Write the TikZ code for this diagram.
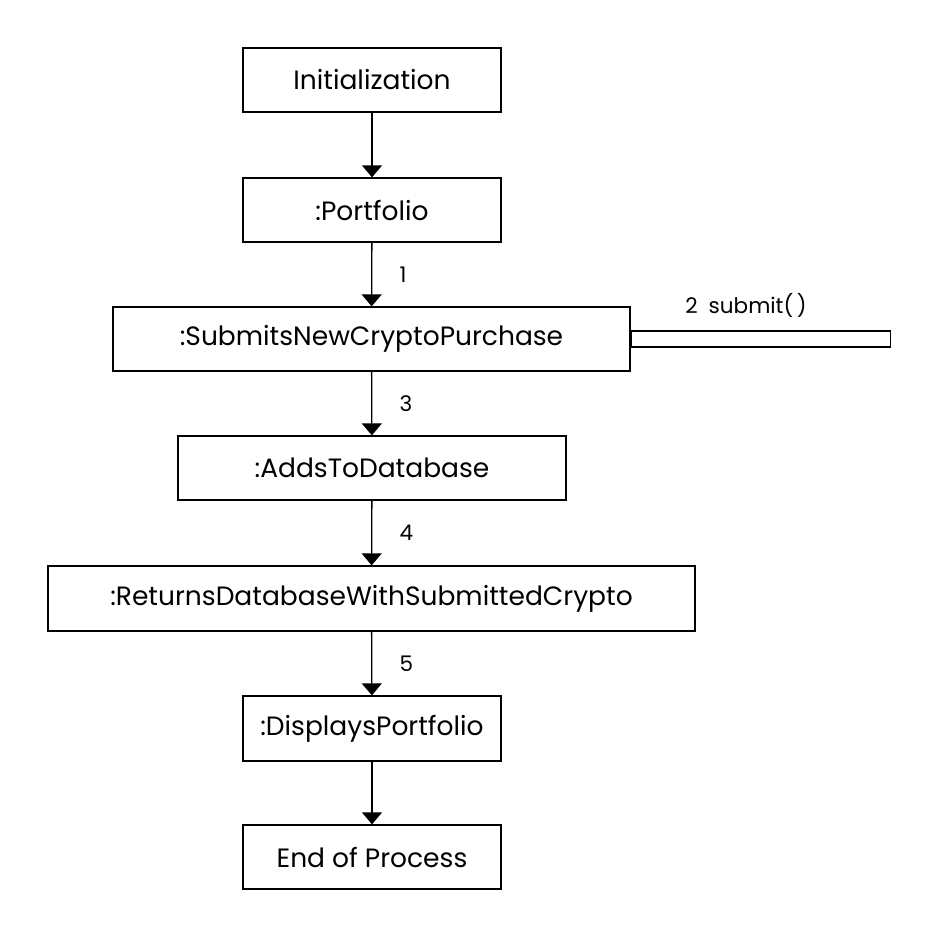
\documentclass[tikz,border=0pt]{standalone}
\usepackage{fontspec}
\setmainfont{Poppins}
\usetikzlibrary{arrows.meta}
\begin{document}
\begin{tikzpicture}[x=1pt,y=-1pt,
  box/.style={draw,line width=1.3pt,minimum height=64pt,inner sep=0pt,font=\fontsize{26.5}{30}\selectfont},
  flow/.style={line width=1.3pt,-{Triangle[width=20pt,length=12pt]}},
  lbl/.style={font=\fontsize{21.5}{24}\selectfont}]
\useasboundingbox[fill=white] (0,0) rectangle (939,938);
\node[box,minimum width=258pt] (init) at (372,80) {Initialization};
\node[box,minimum width=258pt] (port) at (372,210) {:Portfolio};
\node[box,minimum width=517pt] (sub) at (371.5,339) {:SubmitsNewCryptoPurchase};
\node[box,minimum width=388pt] (add) at (372,468) {:AddsToDatabase};
\node[box,minimum width=647pt,minimum height=65pt] (ret) at (371.5,598.5) {:ReturnsDatabaseWithSubmittedCrypto};
\node[box,minimum width=258pt,minimum height=65pt] (disp) at (372,728.5) {:DisplaysPortfolio};
\node[box,minimum width=258pt] (end) at (372,857) {End of Process};
\draw[flow] (init) -- (port);
\draw[flow] (port) -- node[lbl,right=24pt] {1} (sub);
\draw[flow] (sub) -- node[lbl,right=24pt] {3} (add);
\draw[flow] (add) -- node[lbl,right=24pt] {4} (ret);
\draw[flow] (ret) -- node[lbl,right=24pt] {5} (disp);
\draw[flow] (disp) -- (end);
\node[draw,line width=1.3pt,minimum width=259pt,minimum height=16pt,inner sep=0pt,anchor=west] (bar) at (sub.east|-0,339) {};
\node[lbl,anchor=south] (slbl) at (746,321) {2\hspace{11pt}submit(\,)};
\end{tikzpicture}
\end{document}
